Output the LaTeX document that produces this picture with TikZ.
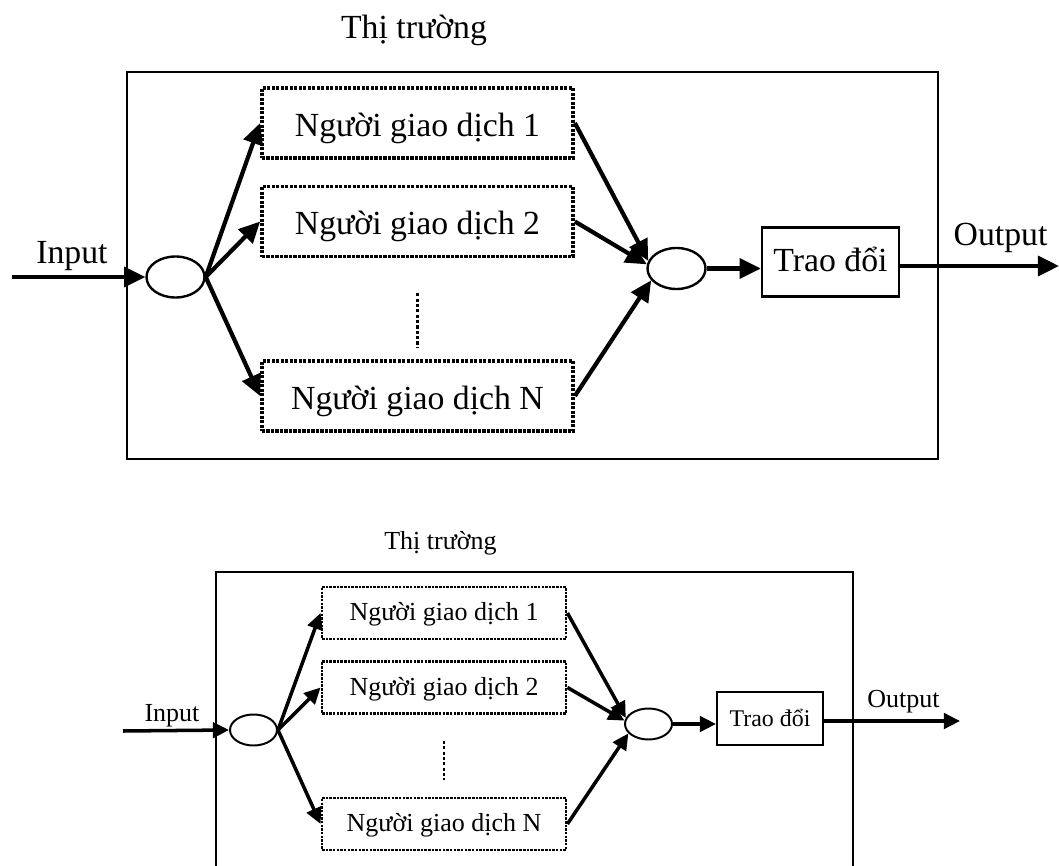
\documentclass[tikz,border=0pt]{standalone}
\usepackage{fontspec}
\setmainfont{Liberation Serif}
\usetikzlibrary{arrows.meta,shapes.geometric}
\begin{document}
\begin{tikzpicture}[x=0.025cm,y=-0.025cm]
  \tikzset{ trader/.style={draw,line width=2.6pt,dash pattern=on 2.2pt off 1pt,inner sep=0pt,minimum width=7.775cm,minimum height=1.75cm,text height=21pt,text depth=2pt,font=\fontsize{24}{28}\selectfont},
    strader/.style={trader,line width=2pt,dash pattern=on 1.8pt off 0.8pt,minimum width=6.1cm,minimum height=1.3cm,text height=13pt,text depth=2pt,font=\fontsize{18.5}{22}\selectfont},
    hub/.style={ellipse,draw,line width=1.7pt,inner sep=0pt,minimum width=1.45cm,minimum height=1.025cm},
    shub/.style={hub,line width=1.4pt,minimum width=1.175cm,minimum height=0.775cm},
    xchg/.style={draw,line width=1.7pt,inner sep=0pt,minimum width=3.425cm,minimum height=1.725cm,text height=15pt,text depth=2pt,font=\fontsize{24}{28}\selectfont},
    sxchg/.style={xchg,line width=1.4pt,minimum width=2.65cm,minimum height=1.325cm,text height=13pt,text depth=1pt,font=\fontsize{17}{20}\selectfont},
    lbl/.style={inner sep=0pt,font=\fontsize{24}{28}\selectfont},
    slbl/.style={inner sep=0pt,font=\fontsize{18.5}{22}\selectfont},
    arr/.style={line width=3pt,-{Triangle[length=15pt,width=14pt]}},
    sarr/.style={line width=2.5pt,-{Triangle[length=11.5pt,width=11pt]}},
    vdots/.style={line width=2.4pt,dash pattern=on 2.2pt off 1.6pt},
  }
  \useasboundingbox (0,0) rectangle (1059,866);

  % upper diagram
  \node[lbl] (At) at (414,30) {Thị trường};
  \node[draw,line width=1.7pt,inner sep=0pt,minimum width=20.275cm,minimum height=9.675cm] (Am) at (532.5,265.5) {};
  \node[hub] (Ai) at (175.5,277) {};
  \node[trader] (A1) at (417.5,123)   {Người giao dịch 1};
  \node[trader] (A2) at (417.5,221.5) {Người giao dịch 2};
  \node[trader] (AN) at (417.5,396)   {Người giao dịch N};
  \node[hub] (Ao) at (676.5,268.5) {};
  \node[xchg] (Ax) at (830.5,262) {Trao đổi};
  \node[lbl] (Ail) at (72,256) {Input};
  \node[lbl] (Aol) at (1000.5,238) {Output};
  \coordinate (Ain) at (12,277);
  \coordinate (Aout) at (1059,266);

  \draw[arr] (Ain) -- (Ai.west);
  \draw[arr] (Ai.east) -- (A1.west);
  \draw[arr] (Ai.east) -- (A2.west);
  \draw[arr] (Ai.east) -- (AN.west);
  \draw[arr] (A1.east) -- (Ao.165);
  \draw[arr] (A2.east) -- (Ao.172);
  \draw[arr] (AN.east) -- (Ao.205);
  \draw[arr] (Ao.east) -- (Ao.east -| Ax.west);
  \draw[arr] (Ax.east |- Aout) -- (Aout);
  \draw[vdots] ([yshift=-0.875cm]A2.south) -- ([yshift=0.275cm]AN.north);

  % lower diagram
  \node[slbl] (Bt) at (440.5,543) {Thị trường};
  \draw[line width=1.7pt] (216,866) -- (216,572) -- (853,572) -- (853,866);
  \node[shub] (Bi) at (253.5,730) {};
  \node[strader] (B1) at (444,613)   {Người giao dịch 1};
  \node[strader] (B2) at (444,687.5) {Người giao dịch 2};
  \node[strader] (BN) at (444,824)   {Người giao dịch N};
  \node[shub] (Bo) at (648.5,724) {};
  \node[sxchg] (Bx) at (770,718.5) {Trao đổi};
  \node[slbl] (Bil) at (172,716) {Input};
  \node[slbl] (Bol) at (903.5,702) {Output};
  \coordinate (Bin) at (123,731);
  \coordinate (Bout) at (960,721);

  \draw[sarr] (Bin) -- (Bi.west);
  \draw[sarr] (Bi.east) -- (B1.west);
  \draw[sarr] (Bi.east) -- (B2.west);
  \draw[sarr] (Bi.east) -- (BN.west);
  \draw[sarr] (B1.east) -- (Bo.165);
  \draw[sarr] (B2.east) -- (Bo.172);
  \draw[sarr] (BN.east) -- (Bo.205);
  \draw[sarr] (Bo.east) -- (Bo.east -| Bx.west);
  \draw[sarr] (Bx.east |- Bout) -- (Bout);
  \draw[vdots,line width=2pt] ([yshift=-0.65cm]B2.south) -- ([yshift=0.425cm]BN.north);
\end{tikzpicture}
\end{document}
